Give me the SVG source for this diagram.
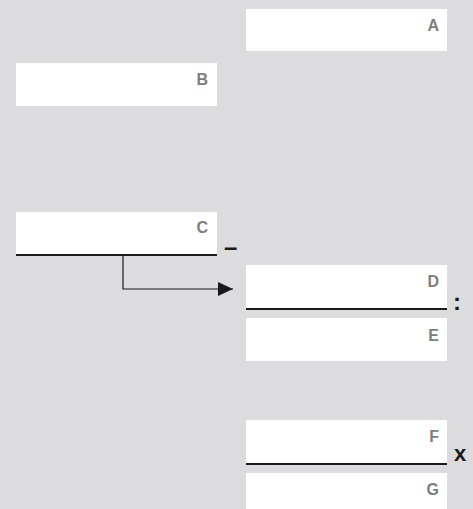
<svg xmlns="http://www.w3.org/2000/svg" width="473" height="509" viewBox="0 0 473 509">
<style>
.box{fill:#ffffff}
.lbl{font-family:"Liberation Sans",Arial,sans-serif;font-weight:bold;font-size:16px;fill:#7e7e7e;text-anchor:end}
.op{font-family:"Liberation Sans",Arial,sans-serif;font-weight:bold;fill:#1a1a1a}
.ul{stroke:#1a1a1a;stroke-width:1.8}
.conn{stroke:#1a1a1a;stroke-width:1.2;fill:none}
</style>
<defs>
<marker id="arr" markerWidth="16" markerHeight="14" refX="15" refY="7" orient="auto" markerUnits="userSpaceOnUse">
<path d="M0,0 L15,7 L0,14 Z" fill="#1a1a1a"/>
</marker>
</defs>
<rect width="473" height="509" fill="#dcdcde"/>
<g id="A"><rect class="box" x="246" y="9" width="201" height="42"/><text class="lbl" x="439" y="31">A</text></g>
<g id="B"><rect class="box" x="16" y="63" width="201" height="43"/><text class="lbl" x="208" y="85">B</text></g>
<g id="C"><rect class="box" x="16" y="212" width="201" height="43"/><line class="ul" x1="16" y1="255" x2="217" y2="255"/><text class="lbl" x="208" y="233">C</text><text class="op" x="224" y="255" font-size="24">–</text></g>
<g id="D"><rect class="box" x="246" y="265" width="201" height="44"/><line class="ul" x1="246" y1="309" x2="447" y2="309"/><text class="lbl" x="439" y="287">D</text><text class="op" x="453" y="310" font-size="24">:</text></g>
<g id="E"><rect class="box" x="246" y="318" width="201" height="43"/><text class="lbl" x="439" y="341">E</text></g>
<g id="F"><rect class="box" x="246" y="420" width="201" height="44"/><line class="ul" x1="246" y1="464" x2="447" y2="464"/><text class="lbl" x="439" y="442">F</text><text class="op" x="454" y="461" font-size="22">x</text></g>
<g id="G"><rect class="box" x="246" y="473" width="201" height="36"/><text class="lbl" x="439" y="495">G</text></g>
<g id="connectors"><path class="conn" d="M123,255 V289 H233" marker-end="url(#arr)"/></g>
</svg>
